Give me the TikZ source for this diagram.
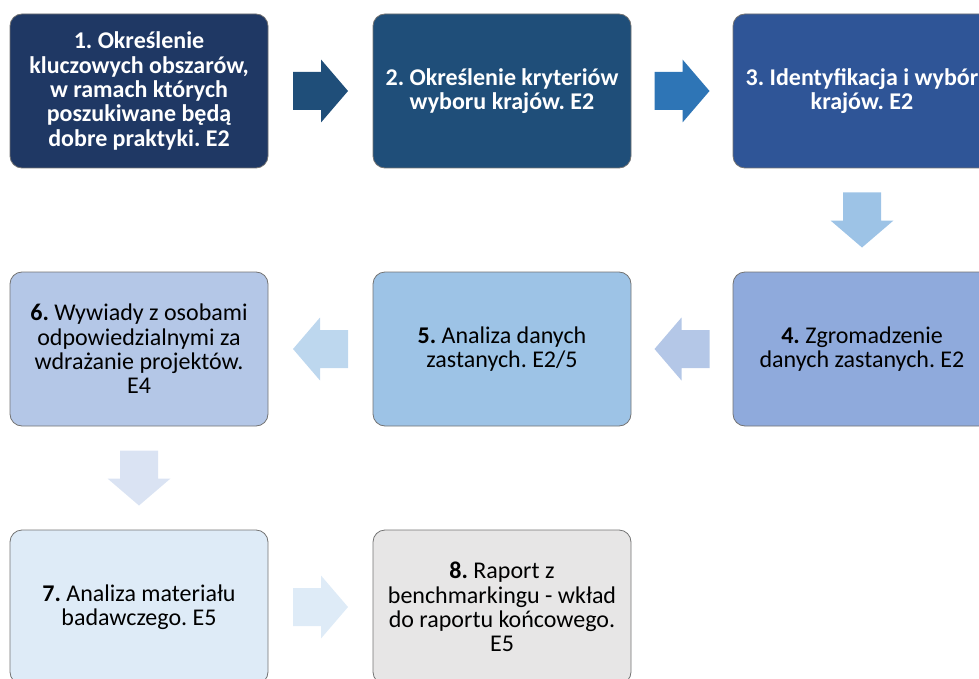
\documentclass[tikz,border=0pt]{standalone}
\usepackage{fontspec}
\setmainfont{Carlito}
\usepackage{xcolor}
\usetikzlibrary{calc}
\frenchspacing

\definecolor{box1}{RGB}{31,56,100}
\definecolor{box2}{RGB}{31,78,121}
\definecolor{box3}{RGB}{47,85,151}
\definecolor{box4}{RGB}{143,170,220}
\definecolor{box5}{RGB}{157,195,230}
\definecolor{box6}{RGB}{180,199,231}
\definecolor{box7}{RGB}{222,235,247}
\definecolor{box8}{RGB}{231,230,230}
\definecolor{arr1}{RGB}{31,78,121}
\definecolor{arr2}{RGB}{46,117,182}
\definecolor{arr3}{RGB}{157,195,230}
\definecolor{arr4}{RGB}{180,199,231}
\definecolor{arr5}{RGB}{189,215,238}
\definecolor{arr6}{RGB}{218,227,243}
\definecolor{arr7}{RGB}{222,235,247}

\tikzset{
  stage/.style={draw=black!55,line width=0.8pt,rounded corners=12pt,
    minimum width=258pt,minimum height=154pt,inner sep=0pt,
    align=center,font=\fontsize{24}{24.3}\selectfont},
  darkstage/.style={stage,text=white,font=\fontsize{24}{24.3}\selectfont\bfseries},
  blockarrow/.pic={\path[pic actions] (-27.5,-19) -- (0.5,-19) -- (0.5,-31.5)
    -- (27.5,0) -- (0.5,31.5) -- (0.5,19) -- (-27.5,19) -- cycle;}
}

\begin{document}
\begin{tikzpicture}[x=1pt,y=-1pt]
\useasboundingbox (0,0) rectangle (979,679);
\clip (0,0) rectangle (979,679);
\node[darkstage,fill=box1](s1) at (139,91) {1. Określenie\\kluczowych obszarów,\\w ramach których\\poszukiwane będą\\dobre praktyki. E2};
\node[darkstage,fill=box2](s2) at (502,91) {2. Określenie kryteriów\\wyboru krajów. E2};
\node[darkstage,fill=box3](s3) at (862,91) {3. Identyfikacja i wybór\\krajów. E2};
\node[stage,fill=box4](s4) at (862,349) {\textbf{4.} Zgromadzenie\\danych zastanych. E2};
\node[stage,fill=box5](s5) at (502,349) {\textbf{5.} Analiza danych\\zastanych. E2/5};
\node[stage,fill=box6](s6) at (139,349) {\textbf{6.} Wywiady z osobami\\odpowiedzialnymi za\\wdrażanie projektów.\\E4};
\node[stage,fill=box7](s7) at (139,607) {\textbf{7.} Analiza materiału\\badawczego. E5};
\node[stage,fill=box8](s8) at (502,607) {\textbf{8.} Raport z\\benchmarkingu - wkład\\do raportu końcowego.\\E5};
% arrows between the stages
\pic[fill=arr1] at ($(s1.east)!0.5!(s2.west)$) {blockarrow};
\pic[fill=arr2] at ($(s2.east)!0.5!(s3.west)$) {blockarrow};
\pic[fill=arr3,rotate=-90] at ($(s3.south)!0.5!(s4.north)$) {blockarrow};
\pic[fill=arr4,rotate=180] at ($(s4.west)!0.5!(s5.east)$) {blockarrow};
\pic[fill=arr5,rotate=180] at ($(s5.west)!0.5!(s6.east)$) {blockarrow};
\pic[fill=arr6,rotate=-90] at ($(s6.south)!0.5!(s7.north)$) {blockarrow};
\pic[fill=arr7] at ($(s7.east)!0.5!(s8.west)$) {blockarrow};
\end{tikzpicture}
\end{document}
